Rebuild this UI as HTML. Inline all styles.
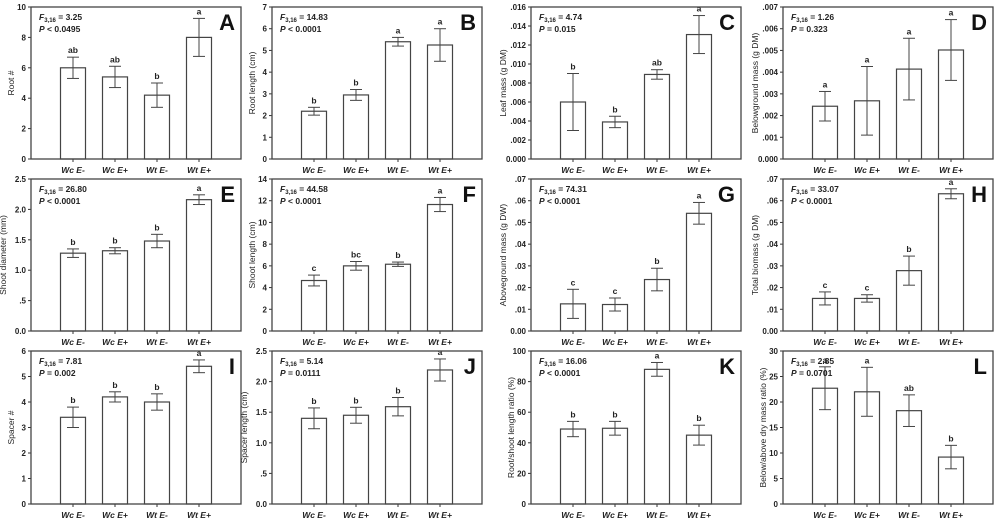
<!DOCTYPE html>
<html><head><meta charset="utf-8"><style>
html,body{margin:0;padding:0;background:#fff;}
svg{display:block;font-family:"Liberation Sans",Arial,sans-serif;}
</style></head><body>
<svg id="fig" width="1000" height="522" viewBox="0 0 1000 522" xmlns="http://www.w3.org/2000/svg"></svg>
<script>
const categories = ["Wc E-","Wc E+","Wt E-","Wt E+"];
const valuesA = [6,5.4,4.2,8];            const errorsA = [0.7,0.7,0.8,1.25];   const lettersA = ["ab","ab","b","a"];
const valuesB = [2.2,2.95,5.4,5.25];      const errorsB = [0.18,0.25,0.2,0.75]; const lettersB = ["b","b","a","a"];
const valuesC = [0.006,0.0039,0.0089,0.0131]; const errorsC = [0.003,0.0006,0.0005,0.002]; const lettersC = ["b","b","ab","a"];
const valuesD = [0.00243,0.00268,0.00414,0.00502]; const errorsD = [0.00068,0.00158,0.00142,0.0014]; const lettersD = ["a","a","a","a"];
const valuesE = [1.28,1.32,1.48,2.16];    const errorsE = [0.07,0.05,0.11,0.08]; const lettersE = ["b","b","b","a"];
const valuesF = [4.65,6.0,6.15,11.65];    const errorsF = [0.5,0.4,0.2,0.65];   const lettersF = ["c","bc","b","a"];
const valuesG = [0.0125,0.0122,0.0237,0.0542]; const errorsG = [0.0067,0.003,0.0052,0.005]; const lettersG = ["c","c","b","a"];
const valuesH = [0.015,0.015,0.0278,0.0632]; const errorsH = [0.003,0.0017,0.0067,0.0023]; const lettersH = ["c","c","b","a"];
const valuesI = [3.4,4.2,4.0,5.4];        const errorsI = [0.4,0.2,0.32,0.25];  const lettersI = ["b","b","b","a"];
const valuesJ = [1.4,1.45,1.59,2.19];     const errorsJ = [0.17,0.13,0.15,0.18]; const lettersJ = ["b","b","b","a"];
const valuesK = [49,49.5,88,45];          const errorsK = [5,4.5,4.5,6.5];      const lettersK = ["b","b","a","b"];
const valuesL = [22.7,22,18.3,9.2];       const errorsL = [4.2,4.8,3.1,2.3];    const lettersL = ["a","a","ab","b"];
const ticksA = ["0","2","4","6","8","10"];
const ticksB = ["0","1","2","3","4","5","6","7"];
const ticksC = ["0.000",".002",".004",".006",".008",".010",".012",".014",".016"];
const ticksD = ["0.000",".001",".002",".003",".004",".005",".006",".007"];
const ticksE = ["0.0",".5","1.0","1.5","2.0","2.5"];
const ticksF = ["0","2","4","6","8","10","12","14"];
const ticksG = ["0.00",".01",".02",".03",".04",".05",".06",".07"];
const ticksH = ticksG;
const ticksI = ["0","1","2","3","4","5","6"];
const ticksJ = ticksE;
const ticksK = ["0","20","40","60","80","100"];
const ticksL = ["0","5","10","15","20","25","30"];
const maxes = {A:10,B:7,C:0.016,D:0.007,E:2.5,F:14,G:0.07,H:0.07,I:6,J:2.5,K:100,L:30};
const titles = {A:"Root #",B:"Root length (cm)",C:"Leaf mass (g DM)",D:"Belowground mass (g DM)",E:"Shoot diameter (mm)",F:"Shoot length (cm)",G:"Aboveground mass (g DW)",H:"Total biomass (g DM)",I:"Spacer #",J:"Spacer length (cm)",K:"Root/shoot length ratio (%)",L:"Below/above dry mass ratio (%)"};
const fstats = {A:"3.25",B:"14.83",C:"4.74",D:"1.26",E:"26.80",F:"44.58",G:"74.31",H:"33.07",I:"7.81",J:"5.14",K:"16.06",L:"2.85"};
const pstats = {A:"P < 0.0495",B:"P < 0.0001",C:"P = 0.015",D:"P = 0.323",E:"P < 0.0001",F:"P < 0.0001",G:"P < 0.0001",H:"P < 0.0001",I:"P = 0.002",J:"P = 0.0111",K:"P < 0.0001",L:"P = 0.0701"};
const data = {A:[valuesA,errorsA,lettersA,ticksA],B:[valuesB,errorsB,lettersB,ticksB],C:[valuesC,errorsC,lettersC,ticksC],D:[valuesD,errorsD,lettersD,ticksD],
E:[valuesE,errorsE,lettersE,ticksE],F:[valuesF,errorsF,lettersF,ticksF],G:[valuesG,errorsG,lettersG,ticksG],H:[valuesH,errorsH,lettersH,ticksH],
I:[valuesI,errorsI,lettersI,ticksI],J:[valuesJ,errorsJ,lettersJ,ticksJ],K:[valuesK,errorsK,lettersK,ticksK],L:[valuesL,errorsL,lettersL,ticksL]};
const order = ["A","B","C","D","E","F","G","H","I","J","K","L"];
const colX = [31,272,531,783], rowY = [[7,159],[179,331],[351,504]], W = 210;
const svg = document.getElementById('fig');
const NS = "http://www.w3.org/2000/svg";
function mk(tag, attrs, parent, text){const e=document.createElementNS(NS,tag);for(const k in attrs)e.setAttribute(k,attrs[k]);if(text!==undefined)e.textContent=text;parent.appendChild(e);return e;}
order.forEach((key,i)=>{
  const L = colX[i%4], T = rowY[Math.floor(i/4)][0], B = rowY[Math.floor(i/4)][1];
  const [vals,errs,lets,ticks] = data[key];
  const max = maxes[key];
  const y = v => B - v/max*(B-T);
  const x = j => L + (j+1)*W/5;
  const g = mk('g',{},svg);
  
  
  // ticks
  ticks.forEach((t,k)=>{
    const v = max*k/(ticks.length-1);
    mk('line',{x1:L-3,x2:L,y1:y(v),y2:y(v),stroke:'#333','stroke-width':1},g);
    const tl = mk('text',{x:L-5,y:y(v)+3,'text-anchor':'end','font-size':8,'font-weight':'bold',fill:'#222'},g,t);
    
    
  });
  // bars
  vals.forEach((v,j)=>{
    const cx = x(j), bw = 25;
    const r = mk('rect',{x:cx-bw/2,y:y(v),width:bw,height:B-y(v),fill:'#fff',stroke:'#444','stroke-width':1.2},g);
    
    
    const e = errs[j];
    mk('line',{x1:cx,x2:cx,y1:y(v+e),y2:y(Math.max(v-e,0)),stroke:'#444','stroke-width':1},g);
    mk('line',{x1:cx-6,x2:cx+6,y1:y(v+e),y2:y(v+e),stroke:'#444','stroke-width':1},g);
    mk('line',{x1:cx-6,x2:cx+6,y1:y(v-e),y2:y(v-e),stroke:'#444','stroke-width':1},g);
    const lt = mk('text',{x:cx,y:y(v+e)-4,'text-anchor':'middle','font-size':8.5,'font-weight':'bold',fill:'#222'},g,lets[j]);
    
    
    mk('line',{x1:cx,x2:cx,y1:B,y2:B+3,stroke:'#333','stroke-width':1},g);
    const cl = mk('text',{x:cx,y:B+14,'text-anchor':'middle','font-size':8.5,'font-weight':'bold','font-style':'italic',fill:'#222'},g,categories[j]);
    
    
  });
  const fr = mk('rect',{x:L,y:T,width:W,height:B-T,fill:'none',stroke:'#444','stroke-width':1.3},g);
  
  
  const st = mk('text',{x:L+8,y:T+13,'font-size':8.5,'font-weight':'bold',fill:'#222'},g);
  
  
  mk('tspan',{'font-style':'italic'},st,'F');
  mk('tspan',{'font-size':6,dy:2},st,'3,16');
  mk('tspan',{dy:-2},st,' = '+fstats[key]);
  const pt = mk('text',{x:L+8,y:T+25,'font-size':8.5,'font-weight':'bold',fill:'#222'},g);
  
  
  mk('tspan',{'font-style':'italic'},pt,'P');
  mk('tspan',{},pt,pstats[key].slice(1));
  const pl = mk('text',{x:L+W-6,y:T+23,'text-anchor':'end','font-size':22,'font-weight':'bold',fill:'#111'},g,key);
  
  
  const yx = L - (ticks[0].length>2 ? 25 : 17), yc=(T+B)/2;
  const yt = mk('text',{x:yx,y:yc,'text-anchor':'middle','font-size':8.5,fill:'#222',transform:`rotate(-90 ${yx} ${yc})`},g,titles[key]);
  
  
});
</script>
</body></html>
